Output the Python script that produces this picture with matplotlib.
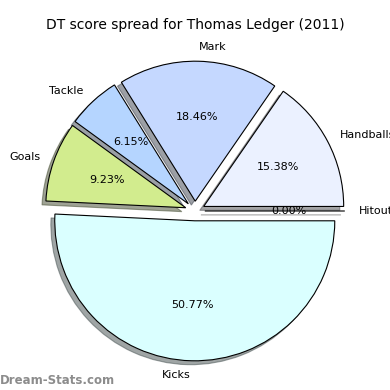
import matplotlib
matplotlib.use("Agg")
import matplotlib.pyplot as plt

labels = ["Handballs", "Mark", "Tackle", "Goals", "Kicks", "Hitout"]
values = [10, 12, 4, 6, 33, 0]
colors = ["#ebf1ff", "#c5d8ff", "#b5d5ff", "#d2ec8e", "#daffff", "#ffffff"]
explode = [0.07, 0.07, 0.07, 0.07, 0.07, 0.07]
title = "DT score spread for Thomas Ledger (2011)"

fig = plt.figure(figsize=(3.9, 3.9), dpi=100)
ax = fig.add_axes([0, 0, 1, 1])
cx, cy, r = 195.0, 211.0, 140.0

wedges, texts, autotexts = ax.pie(
    values, labels=labels, colors=colors, explode=explode,
    autopct="%1.2f%%", startangle=0, counterclock=True, shadow=True,
    wedgeprops=dict(edgecolor="black", linewidth=0.8),
    textprops=dict(fontsize=8),
)
for t in texts + autotexts:
    t.set_fontsize(8)
ax.set_aspect("auto")
ax.set_xlim(-cx / r, (390 - cx) / r)
ax.set_ylim(-(390 - cy) / r, cy / r)
ax.axis("off")

fig.text(0.5, 1 - 25 / 390, title, ha="center", va="center", fontsize=10)
fig.text(0.0, 1 - 380 / 390, "Dream-Stats.com", ha="left", va="center",
         fontsize=8.5, color="#8c8c8c", fontweight="semibold")

fig.savefig("out.png", dpi=100)
